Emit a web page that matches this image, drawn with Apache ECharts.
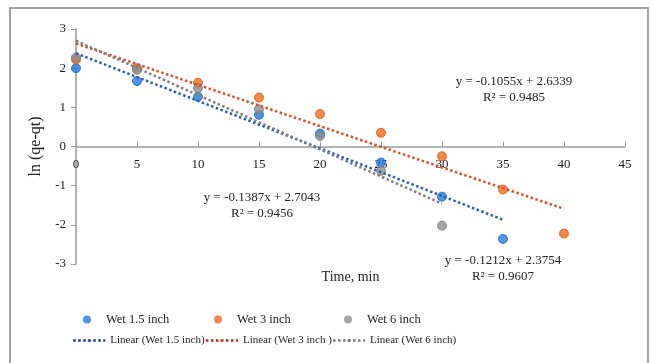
<!DOCTYPE html>
<html>
<head>
<meta charset="utf-8">
<script src="https://cdn.jsdelivr.net/npm/echarts@6/dist/echarts.min.js"></script>
<style>
  html, body { margin: 0; padding: 0; background: #fff; overflow: hidden; }
  #frame { position: absolute; left: 9px; top: 7px; width: 636px; height: 380px; border: 2px solid #a2a2a2; }
  #chart { position: absolute; left: 0; top: 0; width: 653px; height: 363px; }
</style>
</head>
<body>
<div id="frame"></div>
<div id="chart"></div>
<script>
  // time, min
  const timeData = [0, 5, 10, 15, 20, 25, 30, 35, 40];
  // ln(qe-qt)
  const wet15Data = [2.0, 1.67, 1.27, 0.81, 0.33, -0.41, -1.28, -2.36];
  const wet3Data = [2.22, 2.0, 1.63, 1.25, 0.83, 0.35, -0.25, -1.1, -2.22];
  const wet6Data = [2.27, 1.96, 1.49, 0.95, 0.27, -0.62, -2.02];
  // trend line end points [x, y]
  const wet15Trend = [[0, 2.38], [35, -1.87]];
  const wet3Trend = [[0, 2.63], [40, -1.59]];
  const wet6Trend = [[0, 2.70], [30, -1.46]];
  const pointNames = ['Wet 1.5 inch', 'Wet 3 inch', 'Wet 6 inch'];
  const trendNames = ['Linear (Wet 1.5 inch)', 'Linear (Wet 3 inch )', 'Linear (Wet 6 inch)'];
  const eqTexts = [
    'y = -0.1055x + 2.6339\nR\u00b2 = 0.9485',
    'y = -0.1387x + 2.7043\nR\u00b2 = 0.9456',
    'y = -0.1212x + 2.3754\nR\u00b2 = 0.9607'
  ];
  const eqPos = [[35.9, 1.46], [15.25, -1.51], [35.0, -3.11]];

  const font = '"Liberation Serif", "Times New Roman", serif';

  function pairs(vals) {
    return vals.map((v, i) => [timeData[i], v]);
  }

  function scatter(name, vals, color, border) {
    return {
      name: name,
      type: 'scatter',
      data: pairs(vals),
      symbolSize: 9,
      itemStyle: {color: color, borderColor: border, borderWidth: 1}
    };
  }

  function trend(name, pts, color) {
    return {
      name: name,
      type: 'line',
      data: pts,
      symbol: 'none',
      lineStyle: {color: color, width: 2.5, type: 'dotted'},
      itemStyle: {color: color}
    };
  }

  // 第一行图例：每项单独定位
  const pointLegendLeft = [83, 214, 344];
  let pointLegends = pointNames.map((name, i) => ({
    data: [name],
    left: pointLegendLeft[i],
    top: 313,
    padding: 0,
    icon: 'circle',
    itemWidth: 8,
    itemHeight: 8,
    itemStyle: {borderWidth: 0},
    textStyle: {fontFamily: font, fontSize: 12.5, color: '#222', padding: [0, 0, 0, 10]}
  }));

  // 图例里的虚线颜色更深
  const trendLegendColors = ['#1e3a80', '#a82a18', '#7a7a7a'];

  let myChart = echarts.init(document.getElementById('chart'));
  let option = {
    backgroundColor: 'transparent',
    animation: false,
    textStyle: {fontFamily: font, color: '#222'},
    grid: {left: 76, right: 28, top: 29, bottom: 99, outerBoundsMode: 'none'},
    legend: pointLegends.concat([{
      data: trendNames.map((name, i) => ({name: name, lineStyle: {color: trendLegendColors[i]}})),
      left: 72,
      top: 335,
      padding: 0,
      itemWidth: 32,
      itemHeight: 4,
      itemGap: 0,
      lineStyle: {width: 2.5},
      textStyle: {fontFamily: font, fontSize: 11, color: '#222'}
    }]),
    xAxis: {
      type: 'value',
      min: 0,
      max: 45,
      interval: 5,
      name: 'Time, min',
      nameLocation: 'middle',
      nameGap: 6,
      nameTextStyle: {fontFamily: font, fontSize: 14, color: '#222'},
      axisLine: {onZero: true, lineStyle: {color: '#9a9a9a', width: 1.5}},
      axisTick: {inside: true, length: 5, lineStyle: {color: '#9a9a9a'}},
      axisLabel: {margin: -106, fontSize: 13, color: '#222', fontFamily: font},
      splitLine: {show: false}
    },
    yAxis: {
      type: 'value',
      min: -3,
      max: 3,
      interval: 1,
      name: 'ln (qe-qt)',
      nameLocation: 'middle',
      nameGap: 23,
      nameTextStyle: {fontFamily: font, fontSize: 16, color: '#222'},
      axisLine: {show: true, onZero: false, lineStyle: {color: '#9a9a9a', width: 1.5}},
      axisTick: {show: true, length: 5, lineStyle: {color: '#9a9a9a'}},
      axisLabel: {margin: 10, fontSize: 13, color: '#222', fontFamily: font},
      splitLine: {show: false}
    },
    series: [
      scatter(pointNames[0], wet15Data, '#1f7ae0', '#1562bd'),
      scatter(pointNames[1], wet3Data, '#f26a1b', '#d65510'),
      scatter(pointNames[2], wet6Data, '#8f8f8f', '#777777'),
      trend(trendNames[0], wet15Trend, '#2a5cb0'),
      trend(trendNames[1], wet3Trend, '#d2502a'),
      trend(trendNames[2], wet6Trend, '#7d7d7d')
    ]
  };
  myChart.setOption(option);

  // 方程式标注，按数据坐标放置
  let eqGraphics = eqTexts.map((txt, i) => {
    let p = myChart.convertToPixel({gridIndex: 0}, eqPos[i]);
    return {
      type: 'text',
      x: p[0],
      y: p[1],
      style: {
        text: txt,
        fontFamily: font,
        fontSize: 13,
        lineHeight: 16,
        fill: '#222',
        textAlign: 'center',
        textVerticalAlign: 'middle'
      }
    };
  });
  myChart.setOption({graphic: eqGraphics});
</script>
</body>
</html>
